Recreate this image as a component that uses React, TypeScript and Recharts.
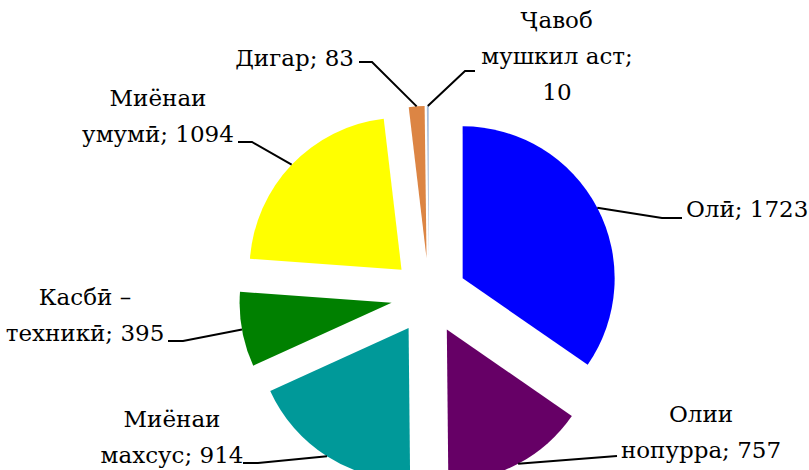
import React from 'react';
import { PieChart, Pie, Cell } from 'recharts';

const categories = ['Олӣ', 'Олии нопурра', 'Миёнаи махсус', 'Касбӣ – техникӣ', 'Миёнаи умумӣ', 'Дигар', 'Ҷавоб мушкил аст'];
const counts = [1723, 757, 914, 395, 1094, 83, 10];
const colors = ['#0000FF', '#660066', '#009999', '#008000', '#FFFF00', '#DC8544', '#A6BDDB'];
// words per label row, e.g. [1, 2] -> "Олии" / "нопурра; 757"
const labelBreaks = [[2], [1, 2], [1, 2], [2, 2], [1, 2], [2], [1, 2, 1]];

const WIDTH = 809;
const HEIGHT = 470;
const CX = 429;
const CY = 296;
const RADIUS = 152;
const EXPLODE = 38;
const FONT = "'DejaVu Serif', serif";
const FONT_SIZE = 23;
const LINE_GAP = 36;
const RAD = Math.PI / 180;

type LabelLayout = { x: number; y: number; anchor: 'start' | 'middle' | 'end'; path: [number, number][] };

// label placement (dragged by hand in the original)
const labelLayout: LabelLayout[] = [
  { x: 686, y: 217, anchor: 'start', path: [[662, 218], [682, 218]] },
  { x: 701, y: 422, anchor: 'middle', path: [[617, 456]] },
  { x: 172, y: 427, anchor: 'middle', path: [[258, 463], [243, 463]] },
  { x: 85, y: 305, anchor: 'middle', path: [[183, 341], [168, 341]] },
  { x: 158, y: 106, anchor: 'middle', path: [[252, 142], [238, 142]] },
  { x: 354, y: 66, anchor: 'end', path: [[372, 62], [359, 62]] },
  { x: 557, y: 28, anchor: 'middle', path: [[465, 71], [475, 71]] },
];

const data = categories.map((name, i) => ({ name, value: counts[i] }));

const total = counts.reduce((a, b) => a + b, 0);
const midAngles: number[] = [];
counts.reduce((acc, v) => {
  midAngles.push(90 - (360 * (acc + v / 2)) / total);
  return acc + v;
}, 0);

const labelRows = (i: number) => {
  const words = `${categories[i]}; ${counts[i]}`.split(' ');
  const rows: string[] = [];
  let k = 0;
  labelBreaks[i].forEach((n) => {
    rows.push(words.slice(k, k + n).join(' '));
    k += n;
  });
  return rows;
};

const renderLabel = (props: any, slice: number) => {
  if (props.index !== slice) return null;
  const { cx, cy, outerRadius, midAngle } = props;
  const sx = cx + outerRadius * Math.cos(-midAngle * RAD);
  const sy = cy + outerRadius * Math.sin(-midAngle * RAD);
  const lay = labelLayout[slice];
  const pts = [[sx, sy], ...lay.path].map((p) => p.join(',')).join(' ');
  return (
    <g>
      <polyline points={pts} fill="none" stroke="#000" strokeWidth={2} />
      {labelRows(slice).map((row, r) => (
        <text
          key={r}
          x={lay.x}
          y={lay.y + r * LINE_GAP}
          textAnchor={lay.anchor}
          style={{ fontFamily: FONT, fontSize: FONT_SIZE }}
          fill="#000"
        >
          {row}
        </text>
      ))}
    </g>
  );
};

export default function App() {
  return (
    <div style={{ position: 'absolute', left: 0, top: 0, width: WIDTH, height: HEIGHT, background: '#fff' }}>
      <PieChart width={WIDTH} height={HEIGHT} margin={{ top: 0, right: 0, bottom: 0, left: 0 }}>
        {data.map((_, i) => {
          const a = midAngles[i] * RAD;
          return (
            <Pie
              key={i}
              data={data}
              dataKey="value"
              nameKey="name"
              cx={CX + EXPLODE * Math.cos(a)}
              cy={CY - EXPLODE * Math.sin(a)}
              outerRadius={RADIUS}
              startAngle={90}
              endAngle={-270}
              stroke="none"
              isAnimationActive={false}
              labelLine={false}
              label={(p: any) => renderLabel(p, i)}
            >
              {data.map((d, j) => (
                <Cell key={d.name} fill={j === i ? colors[j] : 'none'} stroke="none" />
              ))}
            </Pie>
          );
        })}
      </PieChart>
    </div>
  );
}
